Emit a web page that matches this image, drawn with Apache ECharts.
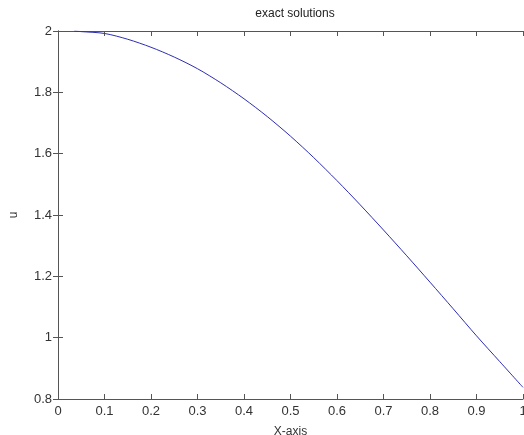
<!DOCTYPE html>
<html>
<head>
<meta charset="utf-8">
<script src="https://cdn.jsdelivr.net/npm/echarts@6/dist/echarts.min.js"></script>
<style>
  html, body { margin: 0; padding: 0; background: #fff; }
  #chart { width: 524px; height: 435px; }
</style>
</head>
<body>
<div id="chart"></div>
<script>
// values
var xs = [0.035, 0.05, 0.1, 0.15, 0.2, 0.25, 0.3, 0.35, 0.4, 0.45, 0.5, 0.55, 0.6, 0.65, 0.7, 0.75, 0.8, 0.85, 0.9, 0.95, 1.0]
var us = [2.0, 1.998, 1.992, 1.973, 1.947, 1.915, 1.877, 1.831, 1.779, 1.721, 1.657, 1.587, 1.512, 1.433, 1.351, 1.267, 1.181, 1.094, 1.006, 0.922, 0.838]

var axisColor = '#555'
var labelColor = '#333'
var font = 'Liberation Sans'

var points = xs.map(function (x, i) { return [x, us[i]] })

var chart = echarts.init(document.getElementById('chart'))
chart.setOption({
  backgroundColor: '#fff',
  animation: false,
  title: {
    text: 'exact solutions',
    left: 290,
    top: 3,
    textAlign: 'center',
    textStyle: { fontFamily: font, fontSize: 12, fontWeight: 'normal', color: '#222' }
  },
  grid: { left: 58, right: 1, top: 31, bottom: 36, outerBoundsMode: 'none', containLabel: false },
  xAxis: [{
    type: 'value',
    min: 0,
    max: 1,
    interval: 0.1,
    name: 'X-axis',
    nameLocation: 'middle',
    nameGap: 27,
    nameTextStyle: { fontFamily: font, fontSize: 12, color: labelColor },
    axisLine: { show: true, lineStyle: { color: axisColor, width: 1 } },
    axisTick: { show: true, inside: true, length: 5, lineStyle: { color: axisColor } },
    axisLabel: { fontFamily: font, fontSize: 13, color: labelColor, margin: 6 },
    splitLine: { show: false }
  }, {
    type: 'value',
    position: 'top',
    min: 0,
    max: 1,
    interval: 0.1,
    axisLine: { show: true, lineStyle: { color: axisColor, width: 1 } },
    axisTick: { show: true, inside: true, length: 5, lineStyle: { color: axisColor } },
    axisLabel: { show: false },
    splitLine: { show: false }
  }],
  yAxis: [{
    type: 'value',
    min: 0.8,
    max: 2,
    interval: 0.2,
    name: 'u',
    nameLocation: 'middle',
    nameRotate: 90,
    nameGap: 38,
    nameTextStyle: { fontFamily: font, fontSize: 12, color: labelColor },
    axisLine: { show: true, lineStyle: { color: axisColor, width: 1 } },
    axisTick: { show: true, inside: true, length: 5, lineStyle: { color: axisColor } },
    axisLabel: { fontFamily: font, fontSize: 13, color: labelColor, margin: 6 },
    splitLine: { show: false }
  }, {
    type: 'value',
    position: 'right',
    min: 0.8,
    max: 2,
    interval: 0.2,
    axisLine: { show: true, lineStyle: { color: axisColor, width: 1 } },
    axisTick: { show: true, inside: true, length: 5, lineStyle: { color: axisColor } },
    axisLabel: { show: false },
    splitLine: { show: false }
  }],
  series: [{
    type: 'line',
    data: points,
    smooth: 0.3,
    showSymbol: false,
    lineStyle: { color: '#2d2db4', width: 1 }
  }]
})
</script>
</body>
</html>
